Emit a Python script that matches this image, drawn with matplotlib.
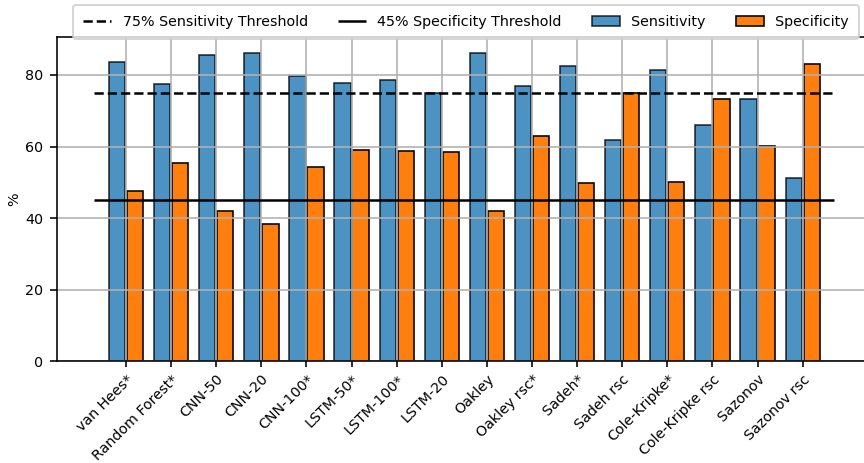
import matplotlib.pyplot as plt
import numpy as np

# Methods and scores (%)
methods = ['van Hees*', 'Random Forest*', 'CNN-50', 'CNN-20', 'CNN-100*',
           'LSTM-50*', 'LSTM-100*', 'LSTM-20', 'Oakley', 'Oakley rsc*',
           'Sadeh*', 'Sadeh rsc', 'Cole-Kripke*', 'Cole-Kripke rsc',
           'Sazonov', 'Sazonov rsc']
sensitivity = [83.5, 77.5, 85.6, 86.2, 79.6, 77.8, 78.5, 75.0, 86.2, 76.8,
               82.6, 61.8, 81.3, 66.0, 73.2, 51.3]
specificity = [47.5, 55.5, 42.0, 38.2, 54.3, 58.9, 58.8, 58.4, 42.0, 62.8,
               49.7, 75.0, 50.2, 73.4, 60.2, 83.1]
sens_thr = 75
spec_thr = 45

plt.rcParams['font.size'] = 7.1

x = np.arange(len(methods))
w = 0.36

fig = plt.figure(figsize=(6, 463 / 144), dpi=144)
ax = fig.add_axes([0.066, 0.22, 0.934, 0.70])

ax.bar(x - 0.2, sensitivity, w, color='tab:blue', alpha=0.8,
       edgecolor='black', linewidth=0.8, label='Sensitivity')
ax.bar(x + 0.2, specificity, w, color='tab:orange',
       edgecolor='black', linewidth=0.8, label='Specificity')
ax.hlines(sens_thr, -0.7, 15.7, colors='black', linestyles='--',
          linewidth=1.25, label='75% Sensitivity Threshold')
ax.hlines(spec_thr, -0.7, 15.7, colors='black', linestyles='-',
          linewidth=1.25, label='45% Specificity Threshold')

ax.set_xticks(x)
ax.set_xticklabels(methods, rotation=45, ha='right', rotation_mode='anchor')
ax.tick_params(axis='x', length=3, pad=2.5)
ax.set_xlim(-1.53, 16.36)
ax.set_ylim(0, 90.6)
ax.set_ylabel('%', labelpad=2)
ax.grid(True)
ax.spines['right'].set_visible(False)

h, l = ax.get_legend_handles_labels()
fig.legend(h, l, ncol=4, loc='upper left', bbox_to_anchor=(0.0845, 0.989),
           borderaxespad=0, borderpad=0.7, columnspacing=2.1)

fig.savefig('out.png', dpi=144)
